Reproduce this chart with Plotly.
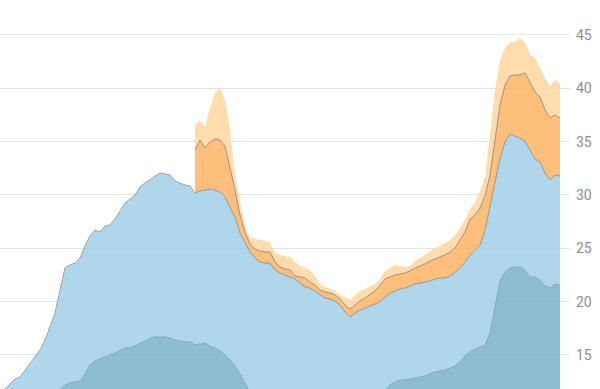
import plotly.graph_objects as go

# x index (one step per sample)
n_points = 113
x_all = list(range(n_points))
orange_start = 39

# light blue series (top of blue area)
light_blue = [11.63, 11.81, 12.28, 12.75, 12.94, 13.59, 14.25, 14.81, 15.47, 16.41, 17.63, 18.94,
              21.09, 23.16, 23.44, 23.63, 24.09, 25.22, 26.16, 26.72, 26.53, 27.09, 27.19, 27.75,
              28.50, 29.25, 29.63, 30.00, 30.75, 31.13, 31.41, 31.78, 32.06, 31.97, 31.88, 31.31,
              31.13, 30.94, 30.84, 30.19, 30.38, 30.47, 30.56, 30.47, 30.28, 29.81, 28.88, 27.94,
              26.44, 25.50, 24.66, 24.09, 23.72, 23.63, 23.63, 22.97, 22.69, 22.50, 22.31, 22.13,
              21.75, 21.38, 21.28, 21.00, 20.63, 20.34, 20.25, 20.06, 19.69, 19.03, 18.56, 18.94,
              19.22, 19.41, 19.59, 19.78, 19.97, 20.44, 20.81, 21.00, 21.19, 21.28, 21.47, 21.66,
              21.75, 21.84, 21.94, 22.13, 22.22, 22.22, 22.41, 22.78, 23.16, 23.72, 24.38, 24.84,
              25.31, 26.72, 29.06, 31.13, 33.47, 34.97, 35.72, 35.53, 35.34, 35.06, 34.22, 33.38,
              33.09, 32.06, 31.41, 31.88, 31.78]

# dark blue series
dark_blue = [7.5, 7.8, 8.1, 8.4, 8.7, 9.0, 9.4, 9.8, 10.2, 10.6, 11.0, 11.4,
             11.72, 12.19, 12.38, 12.47, 12.56, 13.22, 14.06, 14.44, 14.63, 14.81, 15.00, 15.19,
             15.38, 15.66, 15.66, 15.84, 16.13, 16.31, 16.59, 16.69, 16.69, 16.69, 16.59, 16.41,
             16.31, 16.22, 16.22, 15.94, 16.03, 16.13, 15.84, 15.66, 15.38, 15.00, 14.53, 13.97,
             13.22, 12.38, 11.53,
             11.1, 10.8, 10.5, 10.3, 10.1, 9.9, 9.8, 9.7, 9.6, 9.5, 9.4, 9.4, 9.3, 9.3, 9.2, 9.2,
             9.2, 9.3, 9.4, 9.5, 9.7, 10.0, 10.4, 10.8, 11.1, 11.4,
             11.72, 12.19, 12.47, 12.66, 12.66, 12.75, 12.84, 12.94, 13.03, 13.22, 13.41, 13.50,
             13.59, 13.78, 13.97, 14.34, 14.91, 15.28, 15.56, 15.75, 15.94, 17.06, 19.50, 21.94,
             22.78, 23.16, 23.25, 23.25, 22.97, 22.31, 22.31, 22.03, 21.47, 21.28, 21.66, 21.56]

# orange series (top of orange band), from index orange_start
orange = [34.22, 35.16, 34.41, 34.97, 35.25, 35.16, 34.59, 32.63, 30.47, 28.13, 26.53, 25.41,
          24.94, 24.75, 24.66, 24.66, 23.72, 23.25, 23.06, 22.97, 22.41, 22.31, 22.22, 21.84,
          21.56, 21.09, 20.91, 20.81, 20.63, 20.25, 19.69, 19.31, 19.69, 20.06, 20.34, 20.63,
          21.00, 21.56, 22.13, 22.31, 22.50, 22.59, 22.69, 22.88, 23.16, 23.34, 23.53, 23.81,
          24.00, 24.19, 24.38, 24.66, 25.03, 25.78, 26.53, 27.75, 28.13, 28.78, 29.91, 31.88,
          35.00, 38.40, 40.31, 41.16, 41.25, 41.25, 41.44, 40.50, 39.66, 39.19, 37.97, 37.22,
          37.50, 37.22]

# light orange series (top of light orange band), from index orange_start
light_orange = [36.56, 37.03, 36.38, 38.16, 39.56, 40.03, 38.91, 36.09, 31.88, 29.25, 27.00, 26.06,
                25.88, 25.78, 25.69, 25.59, 24.56, 24.38, 24.28, 24.19, 23.72, 23.34, 23.16, 22.97,
                22.41, 21.66, 21.38, 21.19, 21.00, 20.63, 20.44, 20.16, 20.63, 21.00, 21.19, 21.47,
                21.66, 22.13, 22.88, 23.16, 23.44, 23.34, 23.25, 23.34, 23.81, 24.09, 24.38, 24.75,
                25.03, 25.22, 25.50, 25.78, 26.25, 26.91, 27.66, 28.69, 29.25, 30.28, 31.69, 35.63,
                39.84, 42.66, 43.78, 44.34, 44.34, 44.72, 44.25, 43.13, 42.84, 41.91, 40.97, 40.22,
                40.78, 40.41]

y_ticks = [15, 20, 25, 30, 35, 40, 45]
y_tick_labels = ["15", "20", "25", "30", "35", "40", "45"]

x_orange = x_all[orange_start:]
blue_under_orange = light_blue[orange_start:]

fig = go.Figure()
fig.add_trace(go.Scatter(x=x_all, y=dark_blue, mode="lines", fill="tozeroy",
                         fillcolor="rgba(121,177,197,0.85)",
                         line=dict(color="#86a9b6", width=1), hoverinfo="skip"))
fig.add_trace(go.Scatter(x=x_all, y=light_blue, mode="lines", fill="tonexty",
                         fillcolor="rgba(161,207,230,0.85)",
                         line=dict(color="#9aa3a8", width=1), hoverinfo="skip"))
fig.add_trace(go.Scatter(x=x_orange, y=blue_under_orange, mode="lines",
                         line=dict(color="#9aa3a8", width=1), hoverinfo="skip"))
fig.add_trace(go.Scatter(x=x_orange, y=orange, mode="lines", fill="tonexty",
                         fillcolor="rgba(253,180,100,0.85)",
                         line=dict(color="#a09080", width=1), hoverinfo="skip"))
fig.add_trace(go.Scatter(x=x_orange, y=light_orange, mode="lines", fill="tonexty",
                         fillcolor="rgba(254,214,156,0.85)",
                         line=dict(color="rgba(0,0,0,0)", width=0), hoverinfo="skip"))

fig.update_layout(
    width=600, height=389,
    margin=dict(l=0, r=30, t=0, b=0),
    paper_bgcolor="white", plot_bgcolor="white",
    showlegend=False,
    xaxis=dict(range=[0, 114], visible=False, fixedrange=True),
    yaxis=dict(range=[11.81, 48.28], side="right", tickvals=y_ticks, ticktext=y_tick_labels,
               showgrid=True, gridcolor="#e4e4e4", gridwidth=1, zeroline=False,
               showline=False, ticks="", ticklabelstandoff=5,
               tickfont=dict(family="Roboto", size=14, color="#8e8e8e")),
)

fig.write_html("out.html")
